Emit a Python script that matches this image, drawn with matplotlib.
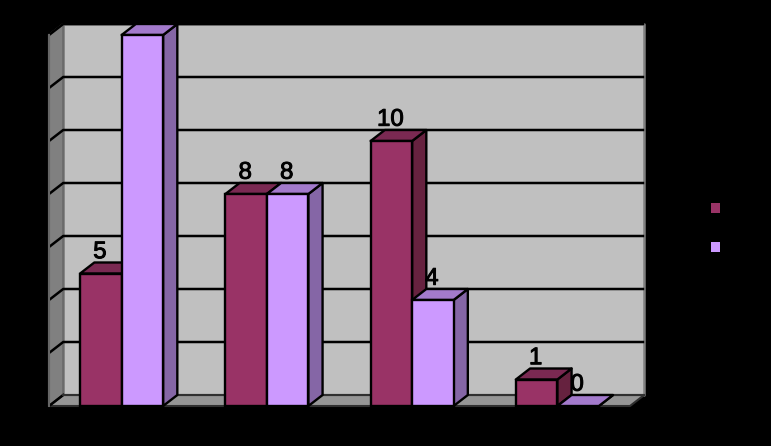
import matplotlib.pyplot as plt
import matplotlib.patheffects as pe
from matplotlib.patches import Polygon, Rectangle

plt.rcParams['font.family'] = ['Liberation Sans', 'DejaVu Sans']

series1 = [5, 8, 10, 1]
series2 = [14, 8, 4, 0]
y_ticks = [0, 2, 4, 6, 8, 10, 12, 14]

W, H = 771, 446
fig = plt.figure(figsize=(W / 100, H / 100), dpi=100, facecolor='black')
# ax covers the front plane of the 3d box, pixels from the reference
left, right, bottom, top = 49, 630, 406, 35
ax = fig.add_axes([left / W, 1 - bottom / H, (right - left) / W, (bottom - top) / H])
ax.set_facecolor('black')
ax.set_xlim(0, 4)
ax.set_ylim(0, 14)
for s in ax.spines.values():
    s.set_visible(False)
ax.set_xticks([])
ax.set_yticks(y_ticks)
ax.tick_params(axis='y', length=0, labelcolor='black', labelsize=13)

dx = 14.2 / (right - left) * 4
dy = 11 / (bottom - top) * 14
bw = 0.2857


def poly(pts, color, lw=1.7, ec='black', z=2):
    ax.add_patch(Polygon(pts, closed=True, facecolor=color, edgecolor=ec,
                         linewidth=lw, clip_on=False, zorder=z, joinstyle='round'))


# back wall, left wall, floor
poly([(dx, dy), (4 + dx, dy), (4 + dx, 14 + dy), (dx, 14 + dy)], '#c0c0c0', lw=1.8, ec='#808080', z=1)
poly([(0, 0), (dx, dy), (dx, 14 + dy), (0, 14)], '#808080', lw=1.5, ec='#6a6a6a', z=1)
poly([(0, 0), (4, 0), (4 + dx, dy), (dx, dy)], '#969696', lw=1.5, ec='#303030', z=1)

for v in y_ticks[1:]:
    ax.plot([0, dx, 4 + dx], [v, v + dy, v + dy], color='black', lw=1.8,
            clip_on=False, zorder=1.5, solid_joinstyle='round', solid_capstyle='butt')
ax.plot([0, dx], [0, dy], color='black', lw=1.8, clip_on=False, zorder=1.5)
ax.plot([dx, 4 + dx], [dy, dy], color='#303030', lw=1.5, clip_on=False, zorder=1.5)
ax.plot([0, 0], [0, 14], color='#666666', lw=1.5, clip_on=False, zorder=1.5)


def bar3d(x, h, front, topc, side, z):
    poly([(x + bw, 0), (x + bw + dx, dy), (x + bw + dx, h + dy), (x + bw, h)], side, z=z)
    poly([(x, h), (x + dx, h + dy), (x + bw + dx, h + dy), (x + bw, h)], topc, z=z)
    if h > 0:
        ax.add_patch(Rectangle((x, 0), bw, h, facecolor=front, edgecolor='black',
                               linewidth=1.7, clip_on=False, zorder=z))
    ax.annotate(str(h), (x + bw / 2, h), xytext=(-0.7, 11), textcoords='offset points',
                ha='center', va='baseline', fontsize=17.3, color='black',
                zorder=10, annotation_clip=False,
                path_effects=[pe.withStroke(linewidth=0.7, foreground='black')])


for i in range(4):
    c = i + 0.5
    bar3d(c - bw, series1[i], '#993366', '#7a2952', '#66223f', 3 + i * 2)
    bar3d(c, series2[i], '#cc99ff', '#a37acc', '#8566a6', 4 + i * 2)

# legend swatches, the legend text is black on black in the reference
for py, col in [(208.5, '#993366'), (247.5, '#cc99ff')]:
    fig.add_artist(Rectangle((711 / W, 1 - (py + 4.5) / H), 9 / W, 9.5 / H,
                             facecolor=col, edgecolor='none',
                             transform=fig.transFigure))

fig.savefig('out.png', dpi=100, facecolor='black')
